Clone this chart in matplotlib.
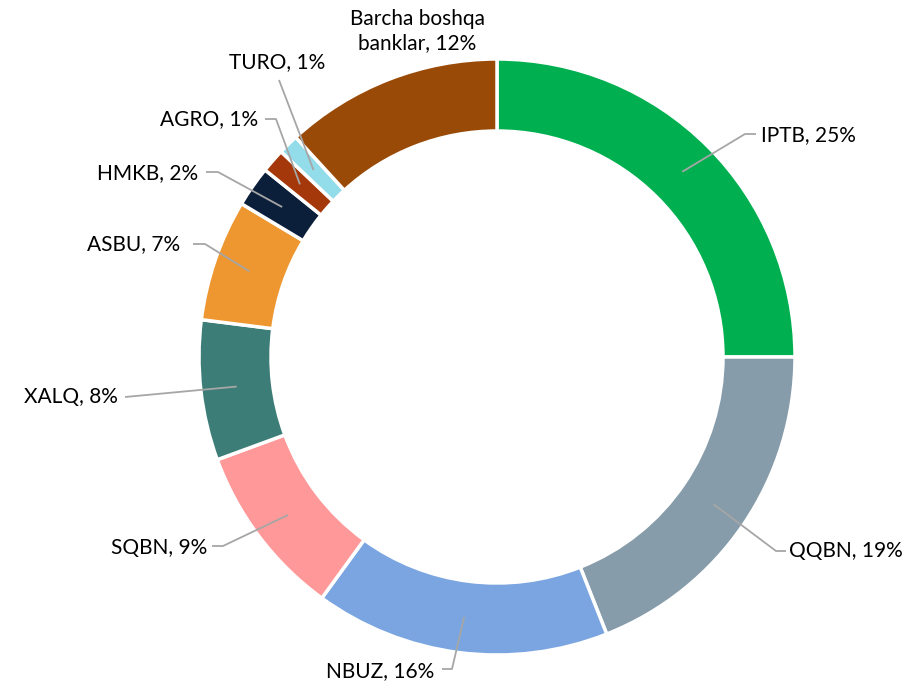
import matplotlib.pyplot as plt
import numpy as np

plt.rcParams['font.family'] = ['Lato', 'DejaVu Sans']

banks = ['IPTB', 'QQBN', 'NBUZ', 'SQBN', 'XALQ', 'ASBU', 'HMKB', 'AGRO', 'TURO',
         'Barcha boshqa\nbanklar']
shares = [25.0, 19.0, 16.0, 9.4, 7.6, 6.6, 2.2, 1.3, 1.1, 11.8]
colors = ['#00B050', '#869CAA', '#7BA5E0', '#FF9999', '#3D7D78', '#EE962F',
          '#0C1F3A', '#A5380A', '#93DCEA', '#9A4A07']

W, H = 917, 688
fig = plt.figure(figsize=(W / 100, H / 100), dpi=100)
ax = fig.add_axes([0, 0, 1, 1])
ax.set_aspect('equal')
ax.axis('off')

cx, cy = 497, H - 357
R = 298
ring = 72

wedges, _ = ax.pie(shares, colors=colors, startangle=90, counterclock=False,
                   radius=R, center=(cx, cy),
                   wedgeprops=dict(width=ring, edgecolor='white', linewidth=2.5))
ax.set_xlim(0, W)
ax.set_ylim(0, H)

# label layout in pixel coords (from top): elbow point, stub end, text anchor
layout = {
    'IPTB': ((745, 134), (756, 134), (761, 135), 'left'),
    'QQBN': ((776, 551), (786, 551), (789, 551), 'left'),
    'NBUZ': ((452, 669), (442, 669), (434, 671), 'right'),
    'SQBN': ((223, 546), (212, 546), (207, 548), 'right'),
    'XALQ': ((125, 397), (125, 397), (118, 397), 'right'),
    'ASBU': ((205, 244), (193, 244), (180, 244), 'right'),
    'HMKB': ((218, 172), (206, 172), (198, 173), 'right'),
    'AGRO': ((276, 119), (265, 119), (258, 119), 'right'),
    'TURO': ((279, 80), (279, 80), (277, 62), 'center'),
}

r_mid = R - ring / 2
for w, name, s in zip(wedges, banks, shares):
    label = f'{name}, {s:.0f}%'
    if name not in layout:
        ax.text(417, H - 31, label, ha='center', va='center', fontsize=15,
                linespacing=1.2)
        continue
    (ex, ey), (sx, sy), (tx, ty), ha = layout[name]
    ang = np.deg2rad((w.theta1 + w.theta2) / 2)
    px, py = cx + r_mid * np.cos(ang), cy + r_mid * np.sin(ang)
    ax.plot([px, ex, sx], [py, H - ey, H - sy], color='#A6A6A6', lw=1.3,
            solid_capstyle='butt')
    ax.text(tx, H - ty, label, ha=ha, va='center', fontsize=15)

fig.savefig('out.png', dpi=100)
